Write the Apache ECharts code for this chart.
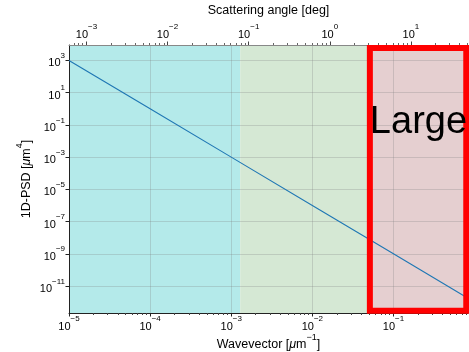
<!DOCTYPE html>
<html>
<head>
<meta charset="utf-8">
<script src="https://cdn.jsdelivr.net/npm/echarts@6/dist/echarts.min.js"></script>
<style>html,body{margin:0;padding:0;background:#fff}#c{width:469px;height:352px}</style>
</head>
<body>
<div id="c"></div>
<script>
// ---- data ----
const wavevector = [1e-5, 1e-4, 1e-3, 1e-2, 1e-1, 0.83];
const psd = [1e3, 1e0, 1e-3, 1e-6, 1e-9, 1.75e-12];
const xRange = [1e-5, 0.83];
const yRange = [2.1e-13, 9.1e3];
const angleFactor = 60.96; // deg per um^-1
const xMajor = [1e-5, 1e-4, 1e-3, 1e-2, 1e-1];
const angleMajor = [1e-3, 1e-2, 1e-1, 1e0, 1e1];
const yMajor = [1e3, 1e1, 1e-1, 1e-3, 1e-5, 1e-7, 1e-9, 1e-11];
const bandSmall = [1e-5, 1.29e-3];
const bandMedium = [1.29e-3, 0.0512];
const bandLarge = [0.0512, 0.83];
const largeBox = [[0.0512, 5.95e3], [0.79, 2.9e-13]];
const largeText = 'Large';

function minorList(lo, hi) {
  const out = [];
  for (let e = Math.floor(Math.log10(lo)); e <= Math.ceil(Math.log10(hi)); e++) {
    for (let m = 2; m <= 9; m++) {
      const v = m * Math.pow(10, e);
      if (v >= lo && v <= hi) out.push(v);
    }
  }
  return out;
}
const FONT = 'Liberation Sans';
function powLabel(v) {
  const e = Math.round(Math.log10(v));
  return '{b|10}{s|' + String(e).replace('-', '\u2212') + '}';
}
const rich = {
  b: {fontSize: 11, fontFamily: FONT, color: '#000', lineHeight: 17, verticalAlign: 'bottom'},
  s: {fontSize: 8, fontFamily: FONT, color: '#000', lineHeight: 10, verticalAlign: 'top'}
};
const nameRich = {
  t: {fontSize: 12.5, fontFamily: FONT, color: '#000', lineHeight: 18, verticalAlign: 'bottom'},
  i: {fontSize: 12.5, fontFamily: FONT, fontStyle: 'italic', color: '#000', lineHeight: 18, verticalAlign: 'bottom'},
  u: {fontSize: 9, fontFamily: FONT, color: '#000', lineHeight: 11, verticalAlign: 'top'}
};
const gridColor = 'rgba(128,128,128,0.35)';
const aMin = xRange[0] * angleFactor, aMax = xRange[1] * angleFactor;

const chart = echarts.init(document.getElementById('c'), null, {renderer: 'canvas'});
chart.setOption({
  animation: false,
  grid: {left: 69, right: 1, top: 45, bottom: 39, containLabel: false, outerBoundsMode: 'none'},
  xAxis: [
    {type: 'log', position: 'bottom', min: xRange[0], max: xRange[1], z: 2,
     name: '{t|Wavevector [}{i|\u03bc}{t|m}{u|\u22121}{t|]}', nameLocation: 'middle', nameGap: 20,
     nameMoveOverlap: false, nameTextStyle: {rich: nameRich},
     axisLine: {show: true, onZero: false, lineStyle: {color: '#222', width: 1}},
     axisTick: {show: true, customValues: xMajor, length: 3.5, lineStyle: {color: '#222'}},
     axisLabel: {customValues: xMajor, formatter: powLabel, rich: rich, margin: 2},
     splitLine: {show: true, lineStyle: {color: gridColor, width: 0.8}}},
    {type: 'log', position: 'top', min: aMin, max: aMax, z: 2,
     name: 'Scattering angle [deg]', nameLocation: 'middle', nameGap: 28,
     nameMoveOverlap: false, nameTextStyle: {fontSize: 12.5, fontFamily: FONT, color: '#000'},
     axisLine: {show: true, onZero: false, lineStyle: {color: '#888', width: 1}},
     axisTick: {show: true, customValues: angleMajor, length: 3.5, lineStyle: {color: '#444'}},
     axisLabel: {customValues: angleMajor, formatter: powLabel, rich: rich, margin: 5},
     splitLine: {show: false}},
    {type: 'log', position: 'bottom', min: xRange[0], max: xRange[1], z: 2,
     axisLine: {show: false}, axisLabel: {show: false}, splitLine: {show: false},
     axisTick: {show: true, customValues: minorList(xRange[0], xRange[1]), length: 2, lineStyle: {color: '#444'}}},
    {type: 'log', position: 'top', min: aMin, max: aMax, z: 2,
     axisLine: {show: false}, axisLabel: {show: false}, splitLine: {show: false},
     axisTick: {show: true, customValues: minorList(aMin, aMax), length: 2, lineStyle: {color: '#666'}}}
  ],
  yAxis: [
    {type: 'log', min: yRange[0], max: yRange[1], z: 2,
     name: '{t|1D-PSD [}{i|\u03bc}{t|m}{u|4}{t|]}', nameLocation: 'middle', nameGap: 36, nameRotate: 90,
     nameMoveOverlap: false, nameTextStyle: {rich: nameRich},
     axisLine: {show: true, onZero: false, lineStyle: {color: '#222', width: 1}},
     axisTick: {show: true, customValues: yMajor, length: 3.5, lineStyle: {color: '#222'}},
     axisLabel: {customValues: yMajor, formatter: powLabel, rich: rich, margin: 4},
     splitLine: {show: true, lineStyle: {color: gridColor, width: 0.8}}}
  ],
  series: [
    {type: 'line', xAxisIndex: 0, yAxisIndex: 0, data: [], z: 1, silent: true,
     markArea: {silent: true, z: 1, data: [
       [{xAxis: bandSmall[0], itemStyle: {color: '#b4eaea'}}, {xAxis: bandSmall[1]}],
       [{xAxis: bandMedium[0], itemStyle: {color: '#d5e8d4'}}, {xAxis: bandMedium[1]}],
       [{xAxis: bandLarge[0], itemStyle: {color: '#e5cfd0'}}, {xAxis: bandLarge[1]}]
     ]}},
    {type: 'line', xAxisIndex: 0, yAxisIndex: 0, z: 3, symbol: 'none', silent: true,
     lineStyle: {color: '#1f77b4', width: 1.1},
     data: wavevector.map((x, i) => [x, psd[i]])},
    {type: 'line', xAxisIndex: 0, yAxisIndex: 0, data: [], z: 4, silent: true,
     markArea: {silent: true, z: 4, data: [
       [{coord: largeBox[0], itemStyle: {color: 'rgba(0,0,0,0)', borderColor: '#ff0000', borderWidth: 6},
         label: {show: true, formatter: largeText, position: 'insideLeft', distance: 3, offset: [0, -57],
                 fontSize: 38, fontFamily: FONT, color: '#000'}},
        {coord: largeBox[1]}]
     ]}}
  ]
});
</script>
</body>
</html>
